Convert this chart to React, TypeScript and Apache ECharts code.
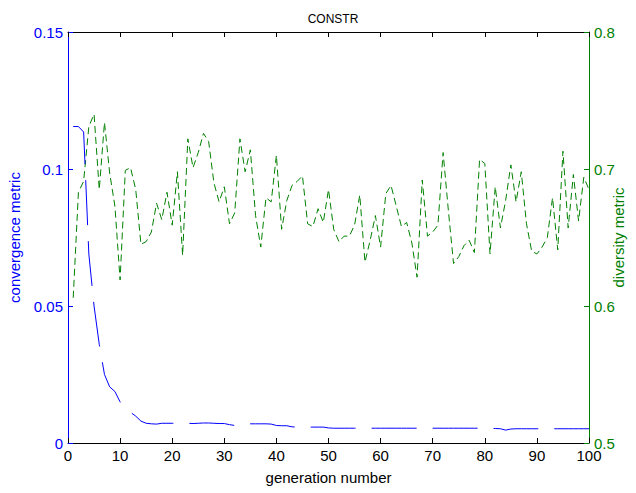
import React, { useEffect, useRef } from "react";
import * as echarts from "echarts";

const generations = Array.from({ length: 100 }, (_, i) => i + 1);

const convergence = [
  0.1155, 0.1155, 0.1135, 0.069, 0.05, 0.036, 0.025, 0.0205, 0.0188, 0.015,
  0.0125, 0.0112, 0.0098, 0.008, 0.0072, 0.007, 0.0069, 0.0072, 0.0072, 0.0072,
  0.0072, 0.0072, 0.0072, 0.0071, 0.0072, 0.0073, 0.0073, 0.0072, 0.0071, 0.0071,
  0.0067, 0.0064, 0.0069, 0.007, 0.007, 0.007, 0.007, 0.007, 0.0069, 0.0064,
  0.0063, 0.0063, 0.0059, 0.0058, 0.0058, 0.0058, 0.0058, 0.0058, 0.0058, 0.0055,
  0.0054, 0.0054, 0.0054, 0.0054, 0.0054, 0.0054, 0.0054, 0.0054, 0.0054, 0.0054,
  0.0054, 0.0054, 0.0054, 0.0054, 0.0054, 0.0054, 0.0054, 0.0054, 0.0054, 0.0054,
  0.0054, 0.0054, 0.0054, 0.0054, 0.0054, 0.0054, 0.0054, 0.0054, 0.0054, 0.0054,
  0.0053, 0.0053, 0.0052, 0.0047, 0.0051, 0.0052, 0.0052, 0.0052, 0.0052, 0.0052,
  0.0052, 0.0052, 0.0052, 0.0052, 0.0052, 0.0052, 0.0052, 0.0052, 0.0052, 0.0052,
];

const diversity = [
  0.606, 0.683, 0.691, 0.731, 0.74, 0.685, 0.734, 0.697, 0.673, 0.619,
  0.699, 0.701, 0.685, 0.645, 0.647, 0.654, 0.675, 0.663, 0.683, 0.659,
  0.698, 0.637, 0.722, 0.701, 0.712, 0.726, 0.72, 0.69, 0.676, 0.687,
  0.66, 0.668, 0.722, 0.698, 0.714, 0.666, 0.643, 0.679, 0.676, 0.71,
  0.656, 0.677, 0.688, 0.691, 0.695, 0.66, 0.658, 0.671, 0.661, 0.685,
  0.656, 0.647, 0.651, 0.651, 0.659, 0.681, 0.632, 0.648, 0.666, 0.643,
  0.682, 0.688, 0.673, 0.658, 0.661, 0.646, 0.621, 0.692, 0.651, 0.654,
  0.659, 0.712, 0.67, 0.631, 0.636, 0.644, 0.648, 0.639, 0.707, 0.704,
  0.638, 0.687, 0.657, 0.677, 0.703, 0.676, 0.698, 0.66, 0.64, 0.638,
  0.643, 0.65, 0.679, 0.641, 0.713, 0.657, 0.696, 0.662, 0.694, 0.685,
];

const BLUE = "#0000ff";
const GREEN = "#008000";
const FONT = "'Liberation Sans', Arial, Helvetica, sans-serif";

export default function App() {
  const ref = useRef<HTMLDivElement>(null);
  useEffect(() => {
    if (!ref.current) return;
    const chart = echarts.init(ref.current, null, { renderer: "svg" });
    const fmt = (v: number) => String(+v.toFixed(2));
    chart.setOption({
      animation: false,
      backgroundColor: "#ffffff",
      title: {
        text: "CONSTR",
        left: 328,
        top: 8,
        textAlign: "center",
        textStyle: { fontFamily: FONT, fontSize: 12, fontWeight: "normal", color: "#000" },
      },
      grid: { left: 68, right: 47, top: 32, bottom: 50, containLabel: false, outerBoundsMode: "none" },
      xAxis: [
        {
          type: "value",
          min: 0,
          max: 100,
          interval: 10,
          position: "bottom",
          name: "generation number",
          nameLocation: "middle",
          nameGap: 27,
          nameMoveOverlap: false,
          nameTextStyle: { fontFamily: FONT, fontSize: 15, color: "#000" },
          axisLine: { show: true, onZero: false, lineStyle: { color: "#000", width: 1 } },
          axisTick: { show: true, inside: true, length: 5, lineStyle: { color: "#000" } },
          axisLabel: { fontFamily: FONT, fontSize: 15, lineHeight: 12, color: "#000", margin: 6 },
          splitLine: { show: false },
        },
        {
          type: "value",
          min: 0,
          max: 100,
          interval: 10,
          position: "top",
          axisLine: { show: true, onZero: false, lineStyle: { color: "#000", width: 1 } },
          axisTick: { show: true, inside: true, length: 5, lineStyle: { color: "#000" } },
          axisLabel: { show: false },
          splitLine: { show: false },
        },
      ],
      yAxis: [
        {
          type: "value",
          min: 0,
          max: 0.15,
          interval: 0.05,
          position: "left",
          name: "convergence metric",
          nameLocation: "middle",
          nameGap: 46,
          nameMoveOverlap: false,
          nameTextStyle: { fontFamily: FONT, fontSize: 15, color: BLUE },
          axisLine: { show: true, onZero: false, lineStyle: { color: BLUE, width: 1 } },
          axisTick: { show: true, inside: true, length: 5, lineStyle: { color: BLUE } },
          axisLabel: { fontFamily: FONT, fontSize: 15, lineHeight: 10, color: BLUE, margin: 5, formatter: fmt },
          splitLine: { show: false },
        },
        {
          type: "value",
          min: 0.5,
          max: 0.8,
          interval: 0.1,
          position: "right",
          name: "diversity metric",
          nameLocation: "middle",
          nameGap: 22,
          nameMoveOverlap: false,
          nameTextStyle: { fontFamily: FONT, fontSize: 15, color: GREEN },
          axisLine: { show: true, onZero: false, lineStyle: { color: GREEN, width: 1 } },
          axisTick: { show: true, inside: true, length: 5, lineStyle: { color: GREEN } },
          axisLabel: { fontFamily: FONT, fontSize: 15, lineHeight: 10, color: GREEN, margin: 5, formatter: fmt },
          splitLine: { show: false },
        },
      ],
      series: [
        {
          type: "line",
          name: "convergence",
          xAxisIndex: 0,
          yAxisIndex: 0,
          data: generations.map((g, i) => [g, convergence[i]]),
          showSymbol: false,
          symbol: "none",
          lineStyle: { color: BLUE, width: 1, type: [45, 16] },
          z: 3,
        },
        {
          type: "line",
          name: "diversity",
          xAxisIndex: 0,
          yAxisIndex: 1,
          data: generations.map((g, i) => [g, diversity[i]]),
          showSymbol: false,
          symbol: "none",
          lineStyle: { color: GREEN, width: 1, type: [7, 4] },
          z: 2,
        },
      ],
    });
    return () => chart.dispose();
  }, []);
  return (
    <div
      ref={ref}
      style={{ position: "fixed", left: 0, top: 0, width: 636, height: 493, background: "#fff" }}
    />
  );
}
